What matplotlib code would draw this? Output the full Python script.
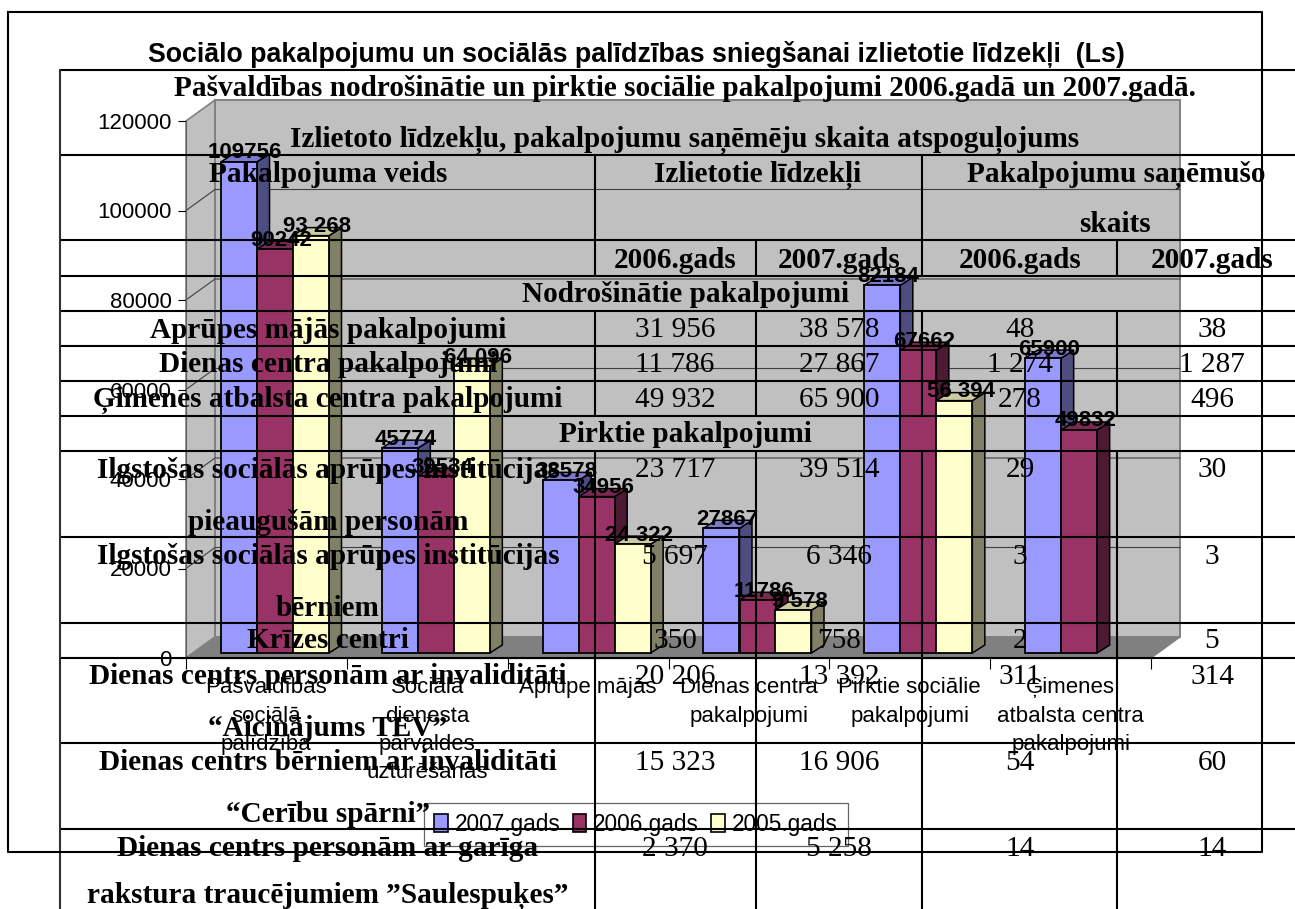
import numpy as np
import matplotlib
matplotlib.use("Agg")
import matplotlib.pyplot as plt
from matplotlib.patches import Patch

W, H = 1295, 909

# chart data
categories = ["Pašvaldības\nsociālā\npalīdzība", "Sociālā\ndienesta\npārvaldes\nuzturēšanās",
              "Aprūpe mājās", "Dienas centra\npakalpojumi",
              "Pirktie sociālie\npakalpojumi", "Ģimenes\natbalsta centra\npakalpojumi"]
series_names = ["2007.gads", "2006.gads", "2005.gads"]
v2007 = [109756, 45774, 38578, 27867, 82184, 65900]
v2006 = [90242, 39534, 34956, 11786, 67662, 49832]
v2005 = [93268, 64096, 24322, 9578, 56394, np.nan]
l2007 = ["109756", "45774", "38578", "27867", "82184", "65900"]
l2006 = ["90242", "39534", "34956", "11786", "67662", "49832"]
l2005 = ["93 268", "64 096", "24 322", "9 578", "56 394", ""]
y_ticks = [0, 20000, 40000, 60000, 80000, 100000, 120000]

# table overlaid on the chart
title = "Sociālo pakalpojumu un sociālās palīdzības sniegšanai izlietotie līdzekļi  (Ls)"
head1 = "Pašvaldības nodrošinātie un pirktie sociālie pakalpojumi 2006.gadā un 2007.gadā."
head2 = "Izlietoto līdzekļu, pakalpojumu saņēmēju skaita atspoguļojums"
row_labels = ["Aprūpes mājās pakalpojumi", "Dienas centra pakalpojumi", "Ģimenes atbalsta centra pakalpojumi",
              "Ilgstošas sociālās aprūpes institūcijas", "Ilgstošas sociālās aprūpes institūcijas", "Krīzes centri",
              "Dienas centrs personām ar invaliditāti", "Dienas centrs bērniem ar invaliditāti",
              "Dienas centrs personām ar garīga"]
row_labels2 = ["", "", "", "pieaugušām personām", "bērniem", "", "“Aicinājums TEV”", "“Cerību spārni”",
               "rakstura traucējumiem ”Saulespuķes”"]
money_2006 = ["31 956", "11 786", "49 932", "23 717", "5 697", "350", "20 206", "15 323", "2 370"]
money_2007 = ["38 578", "27 867", "65 900", "39 514", "6 346", "758", "13 392", "16 906", "5 258"]
people_2006 = ["48", "1 274", "278", "29", "3", "2", "311", "54", "14"]
people_2007 = ["38", "1 287", "496", "30", "3", "5", "314", "60", "14"]

FACE = ["#9999FF", "#993366", "#FFFFCC"]
SIDE = ["#4D4D80", "#4D1A33", "#808066"]
TOP = ["#7A7ACC", "#7A2952", "#CCCCA3"]

PX_Y = 120000 / 537.0   # value units per pixel
PX_X = 6 / 965.0        # category units per pixel

fig = plt.figure(figsize=(W / 100, H / 100), dpi=100, facecolor="white")
ax = fig.add_axes([186 / W, 1 - 658 / H, 965 / W, 537 / H])
ax.set_xlim(0, 6)
ax.set_ylim(0, 120000)
ax.patch.set_alpha(0)

# walls and floor
wx, wy = 29 * PX_X, 21 * PX_Y
ax.fill([0, wx, wx, 0], [0, wy, 120000 + wy, 120000], color="#C0C0C0", ec="#808080", lw=1.2, clip_on=False, zorder=1)
ax.fill([wx, 6 + wx, 6 + wx, wx], [wy, wy, 120000 + wy, 120000 + wy], color="#C0C0C0", ec="#808080", lw=1.4,
        clip_on=False, zorder=1)
ax.fill([0, wx, 6 + wx, 6], [0, wy, wy, 0], color="#808080", ec="#808080", lw=1, clip_on=False, zorder=1)
for t in y_ticks[1:-1]:
    ax.plot([0, wx, 6 + wx], [t, t + wy, t + wy], color="#404040", lw=0.8, clip_on=False, zorder=2)

# bars with a drawn depth
w = 36 * PX_X
dx, dy = 12.5 * PX_X, 8 * PX_Y
floor = 5 * PX_Y
z = 3
for g in range(6):
    for s, vals in enumerate([v2007, v2006, v2005]):
        v = vals[g]
        if np.isnan(v):
            continue
        x0 = g + 35 * PX_X + s * w
        x1 = x0 + w
        top = floor + v
        ax.fill([x1, x1 + dx, x1 + dx, x1], [floor, floor + dy, top + dy, top], color=SIDE[s], ec="black",
                lw=1.1, clip_on=False, zorder=z)
        ax.fill([x0, x0 + dx, x1 + dx, x1], [top, top + dy, top + dy, top], color=TOP[s], ec="black",
                lw=1.1, clip_on=False, zorder=z)
        ax.bar(x0, v, width=w, bottom=floor, align="edge", color=FACE[s], ec="black", lw=1.3, clip_on=False,
               zorder=z + 0.5)
        z += 1

# data labels go above all bars
for s, labs in enumerate([l2007, l2006, l2005]):
    for g, lab in enumerate(labs):
        if not lab:
            continue
        v = [v2007, v2006, v2005][s][g]
        x0 = g + 35 * PX_X + s * w
        ax.annotate(lab, (x0 + w / 2 + dx / 2, floor + v), xytext=(0, 6.5), textcoords="offset points",
                    ha="center", va="center", fontsize=16, fontweight="bold", family="Liberation Sans",
                    color="black", zorder=50, annotation_clip=False)

for name in ["top", "right"]:
    ax.spines[name].set_visible(False)
ax.spines["left"].set_color("#606060")
ax.spines["bottom"].set_color("black")
ax.set_yticks(y_ticks)
ax.set_yticklabels([str(t) for t in y_ticks], family="Liberation Sans", fontsize=16)
ax.tick_params(axis="y", length=6, width=0.8, pad=4.5)
ax.set_xticks(range(7))
ax.set_xticklabels([""] * 7)
ax.tick_params(axis="x", which="major", length=8, width=0.8)
ax.set_xticks(np.arange(6) + 0.5, minor=True)
ax.set_xticklabels(categories, minor=True, family="Liberation Sans", fontsize=16, linespacing=1.45)
ax.tick_params(axis="x", which="minor", length=0, pad=14)

handles = [Patch(facecolor=FACE[i], edgecolor="black", lw=1.2) for i in range(3)]
leg = ax.legend(handles, series_names, ncol=3, loc="lower left", bbox_to_anchor=(424 / W, 1 - 846 / H),
                bbox_transform=fig.transFigure, prop={"family": "Liberation Sans", "size": 16.3}, frameon=True,
                fancybox=False, edgecolor="#404040", handlelength=0.6, handleheight=0.8,
                handletextpad=0.3, columnspacing=0.55, borderpad=0.45, borderaxespad=0)
leg.get_frame().set_facecolor("none")
leg.get_frame().set_linewidth(0.9)
leg.set_zorder(60)

# table layer
tb = fig.add_axes([0, 0, 1, 1], zorder=5)
tb.set_xlim(0, W)
tb.set_ylim(H, 0)
tb.axis("off")
tb.patch.set_alpha(0)

LW = 1.5
for y in [70, 155, 240, 276, 311, 346, 381, 416, 451, 537, 623, 658, 743, 829]:
    tb.plot([60, W], [y, y], color="black", lw=LW, solid_capstyle="butt")
tb.plot([60, 60], [70, H], color="#303030", lw=LW)
for x, y0, y1 in [(595, 155, 276), (922, 155, 276), (756, 240, 276), (1117, 240, 276),
                  (595, 311, 416), (756, 311, 416), (922, 311, 416), (1117, 311, 416),
                  (595, 451, H), (756, 451, H), (922, 451, H), (1117, 451, H)]:
    tb.plot([x, x], [y0, y1], color="black", lw=LW, solid_capstyle="butt")
tb.plot([8, 1262, 1262, 8, 8], [12, 12, 852, 852, 12], color="black", lw=LW)

tb.text(636, 54, title, ha="center", va="center", family="Liberation Sans", fontweight="bold", fontsize=19.3)


def serif(x, y, s, bold=True):
    tb.text(x, y + 2, s, ha="center", va="center", family="Liberation Serif", fontsize=21.1,
            fontweight="bold" if bold else "normal")


serif(685, 87, head1)
serif(685, 138, head2)
serif(328, 173, "Pakalpojuma veids")
serif(758, 173, "Izlietotie līdzekļi")
serif(1116, 173, "Pakalpojumu saņēmušo")
serif(1115, 223, "skaits")
for x, s in [(675, "2006.gads"), (839, "2007.gads"), (1020, "2006.gads"), (1212, "2007.gads")]:
    serif(x, 258, s)
serif(685, 293, "Nodrošinātie pakalpojumi")
serif(685, 433, "Pirktie pakalpojumi")

row_y = [328, 363, 398, 468, 555, 639, 675, 761, 847]
row_y2 = [0, 0, 0, 521, 606, 0, 727, 812, 894]
for i, y in enumerate(row_y):
    serif(328, y, row_labels[i])
    if row_labels2[i]:
        serif(328, row_y2[i], row_labels2[i])
    serif(675, y, money_2006[i], bold=False)
    serif(839, y, money_2007[i], bold=False)
    serif(1020, y, people_2006[i], bold=False)
    serif(1212, y, people_2007[i], bold=False)

fig.savefig("out.png", dpi=100)
